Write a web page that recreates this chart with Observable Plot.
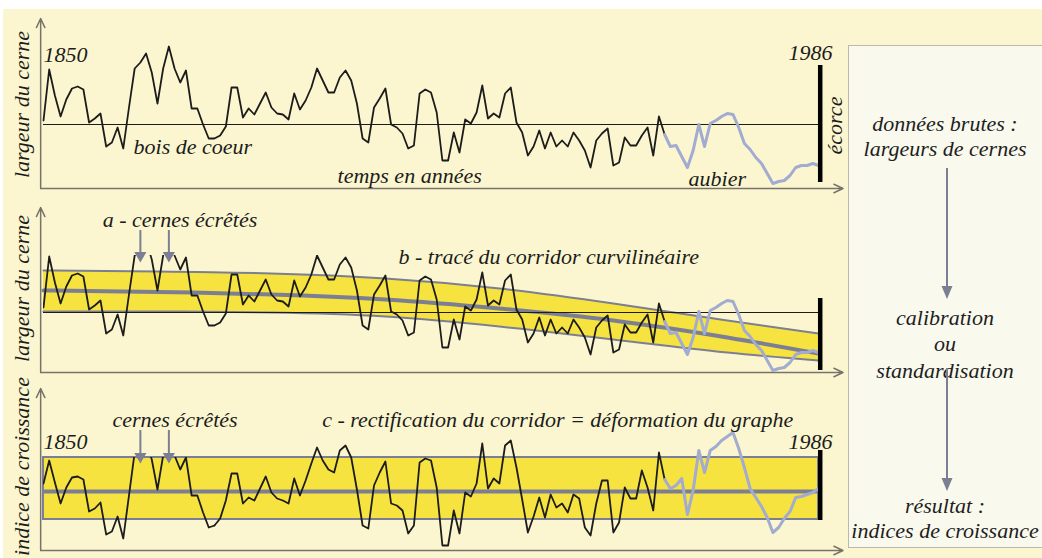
<!DOCTYPE html>
<html><head><meta charset="utf-8">
<script src="https://cdn.jsdelivr.net/npm/d3@7"></script>
<script src="https://cdn.jsdelivr.net/npm/@observablehq/plot@0.6"></script>
<style>
html,body{margin:0;padding:0;background:#fff;}
#page{position:relative;width:1042px;height:558px;overflow:hidden;background:#fff;}
#cream{position:absolute;left:3px;top:9px;right:0;bottom:0;background:#fbf6cf;}
#box{position:absolute;left:848px;top:45px;width:210px;height:503px;background:#f9f9ee;border:1px solid #bdb8ab;box-sizing:border-box;}
#side{position:absolute;left:0;top:0;}
.panel{position:absolute;left:0;width:845px;}
.panel svg{overflow:visible;}
</style></head>
<body><div id="page">
<div id="cream"></div>
<div id="box"></div>
<svg id="side" width="1042" height="558">
 <g style="font-family:'Liberation Serif';font-style:italic;font-size:22px" fill="#1e1e1e" text-anchor="middle">
  <text x="945" y="131">données brutes :</text>
  <text x="945" y="156">largeurs de cernes</text>
  <text x="945" y="325">calibration</text>
  <text x="945" y="351">ou</text>
  <text x="945" y="378">standardisation</text>
  <text x="945" y="513">résultat :</text>
  <text x="945" y="538">indices de croissance</text>
 </g>
 <line x1="947" y1="168" x2="947" y2="288" stroke="#7c7f93" stroke-width="2"/>
 <path d="M941.5,286 L952.5,286 L947,299 Z" fill="#7c7f93"/>
 <line x1="947" y1="368" x2="947" y2="480" stroke="#7c7f93" stroke-width="2"/>
 <path d="M941.5,478 L952.5,478 L947,491 Z" fill="#7c7f93"/>
</svg>
<div class="panel" id="p1" style="top:0px"></div>
<div class="panel" id="p2" style="top:187px"></div>
<div class="panel" id="p3" style="top:370px"></div>
</div>
<script>
// ---- data ----
const startYear = 1850;
const heartwoodEnd = 1959;              // last heartwood ring, sapwood follows up to the bark (1986)
// raw ring widths (arbitrary units, 1/100 mm)
const rawWidth = [
  80,131,105,84,101,112,114,111,78,82,
  87,54,58,73,52,93,132,138,147,128,
  97,132,154,132,118,130,92,92,76,62,
  62,65,74,113,113,83,92,86,97,108,
  93,87,86,81,107,91,100,113,132,120,
  108,108,123,130,120,97,62,58,93,102,
  112,76,73,67,52,55,107,111,108,88,
  40,40,68,48,81,77,88,115,82,87,
  83,107,113,78,68,45,54,70,52,68,
  54,60,54,68,60,50,33,60,67,72,
  35,38,63,55,55,65,73,45,84,66,
  54,55,44,33,50,76,54,77,80,84,
  87,86,73,57,51,43,37,27,17,19,
  20,25,33,35,35,37,35];
// growth indices after rectification of the corridor (%)
const growthIndex = [
  108,131,109,88,104,114,115,112,80,83,
  89,57,60,75,53,96,139,143,151,132,
  102,136,156,136,122,134,96,96,79,64,
  66,73,91,118,118,88,94,91,103,115,
  99,93,91,88,113,96,111,128,144,131,
  122,119,141,146,134,102,66,63,106,119,
  130,88,86,81,58,66,129,133,131,104,
  46,46,81,58,99,95,108,148,103,113,
  108,146,151,124,92,59,75,94,74,97,
  84,88,79,97,93,64,56,88,111,111,
  59,69,104,93,93,121,104,81,139,112,
  103,106,113,77,101,141,119,141,145,151,
  155,159,143,124,103,94,85,74,59,64,
  73,80,94,95,97,99,103];
// curvilinear corridor (b)
const corridorYears = [1850, 1870, 1890, 1910, 1930, 1950, 1970, 1986];
const corridorTop   = [117, 116, 114, 109, 99, 84, 67, 54];
const corridorMid   = [97, 95.5, 93, 88, 79, 67, 50, 34];
const corridorLow   = [76, 76, 75, 71, 61, 48, 35, 27];
// rectified corridor (c): lower, reference, upper
const indexBand = [72, 100, 134];
const clippedRingYears = [1867, 1872];

// ---- build ----
const F = "Liberation Serif";
const INK = "#1c1c1c", AX = "#77736b", CORR = "#7c7f93", SAP = "#a2abd0", YEL = "#f6e33f";
const rows = rawWidth.map((w, i) => ({year: startYear + i, w, idx: growthIndex[i]}));
const heart = rows.filter(d => d.year <= heartwoodEnd);
const sap = rows.filter(d => d.year >= heartwoodEnd);
const corridor = corridorYears.map((year, i) => ({year, top: corridorTop[i], mid: corridorMid[i], low: corridorLow[i]}));
const endYear = rows[rows.length - 1].year;

const base = {
  width: 845, marginLeft: 43, marginRight: 27, marginBottom: 0,
  x: {domain: [startYear, endYear], axis: null},
  style: "background:transparent;overflow:visible;max-width:none;"
};
function label(text, x, y, opts = {}) {
  return Plot.text([text], {x, y, text: d => d, fontFamily: F, fontStyle: "italic", fontSize: 22,
    fill: INK, textAnchor: "start", ...opts});
}
function axes(bottom, top) {
  return [
    Plot.arrow([0], {x1: 1849.5, y1: bottom, x2: 1849.5, y2: top, stroke: AX, strokeWidth: 1.5, headLength: 10, headAngle: 50}),
    Plot.arrow([0], {x1: 1849.5, y1: bottom, x2: 1990.3, y2: bottom, stroke: AX, strokeWidth: 1.5, headLength: 10, headAngle: 50})
  ];
}
function clipArrows(yTop, yHead) {
  return [
    Plot.ruleX(clippedRingYears, {x: d => d, y1: yTop, y2: yHead, stroke: CORR, strokeWidth: 2}),
    Plot.dot(clippedRingYears, {x: d => d, y: yHead, symbol: "triangle", rotate: 180, r: 4.5, fill: CORR, stroke: "none"})
  ];
}
const bark = (y1, y2) => Plot.ruleX([endYear + 0.3], {y1, y2, stroke: "#000", strokeWidth: 4.5});

const p1 = Plot.plot({...base, height: 200, marginTop: 0, y: {domain: [0, 200], axis: null},
  marks: [
    Plot.ruleY([76], {x1: startYear, x2: endYear + 0.3, stroke: INK, strokeWidth: 1.2}),
    ...axes(12, 182),
    Plot.line(heart, {x: "year", y: "w", stroke: INK, strokeWidth: 1.8}),
    Plot.line(sap, {x: "year", y: "w", stroke: SAP, strokeWidth: 3}),
    bark(18, 135),
    label("1850", 1850, 146),
    label("1986", 1984.6, 148, {textAnchor: "middle"}),
    label("bois de coeur", 1865.8, 54),
    label("temps en années", 1901.6, 25),
    label("aubier", 1963.2, 22),
    label("écorce", 1988.8, 75, {rotate: -90, textAnchor: "middle"}),
    label("largeur du cerne", 1846.3, 96, {rotate: -90, textAnchor: "middle"})
  ]});

const p2 = Plot.plot({...base, height: 190, marginTop: 68, y: {domain: [10, 132], axis: null},
  marks: [
    Plot.areaY(corridor, {x: "year", y1: "low", y2: "top", fill: YEL, curve: "natural"}),
    Plot.line(corridor, {x: "year", y: "top", stroke: CORR, strokeWidth: 2, curve: "natural"}),
    Plot.line(corridor, {x: "year", y: "low", stroke: CORR, strokeWidth: 2, curve: "natural"}),
    Plot.line(corridor, {x: "year", y: "mid", stroke: CORR, strokeWidth: 4, curve: "natural"}),
    Plot.ruleY([75], {x1: startYear, x2: endYear + 0.3, stroke: INK, strokeWidth: 1}),
    ...axes(15, 180),
    Plot.line(heart, {x: "year", y: "w", stroke: INK, strokeWidth: 1.8, clip: true}),
    Plot.line(sap, {x: "year", y: "w", stroke: SAP, strokeWidth: 3}),
    bark(17, 89),
    ...clipArrows(157, 132),
    label("a - cernes écrêtés", 1860.4, 168),
    label("b - tracé du corridor curvilinéaire", 1912.3, 131),
    label("largeur du cerne", 1846.3, 99, {rotate: -90, textAnchor: "middle"})
  ]});

const p3 = Plot.plot({...base, height: 188, marginTop: 87, y: {domain: [33, 134], axis: null},
  marks: [
    Plot.rect([0], {x1: startYear, x2: endYear, y1: indexBand[0], y2: indexBand[2], fill: YEL, stroke: CORR, strokeWidth: 2}),
    Plot.ruleY([indexBand[1]], {x1: startYear, x2: endYear + 0.3, stroke: CORR, strokeWidth: 4}),
    ...axes(41, 203),
    Plot.line(heart.filter(d => d.year <= 1880), {x: "year", y: "idx", stroke: INK, strokeWidth: 1.8, clip: true}),
    Plot.line(heart.filter(d => d.year >= 1880), {x: "year", y: "idx", stroke: INK, strokeWidth: 1.8}),
    Plot.line(sap, {x: "year", y: "idx", stroke: SAP, strokeWidth: 3}),
    bark(71, 141),
    ...clipArrows(161, 135),
    label("cernes écrêtés", 1862.1, 172),
    label("c - rectification du corridor = déformation du graphe", 1898.9, 172),
    label("1850", 1850, 150),
    label("1986", 1984.6, 150, {textAnchor: "middle"}),
    label("indice de croissance", 1846.3, 125, {rotate: -90, textAnchor: "middle"})
  ]});

document.getElementById("p1").append(p1);
document.getElementById("p2").append(p2);
document.getElementById("p3").append(p3);
</script>
</body></html>
